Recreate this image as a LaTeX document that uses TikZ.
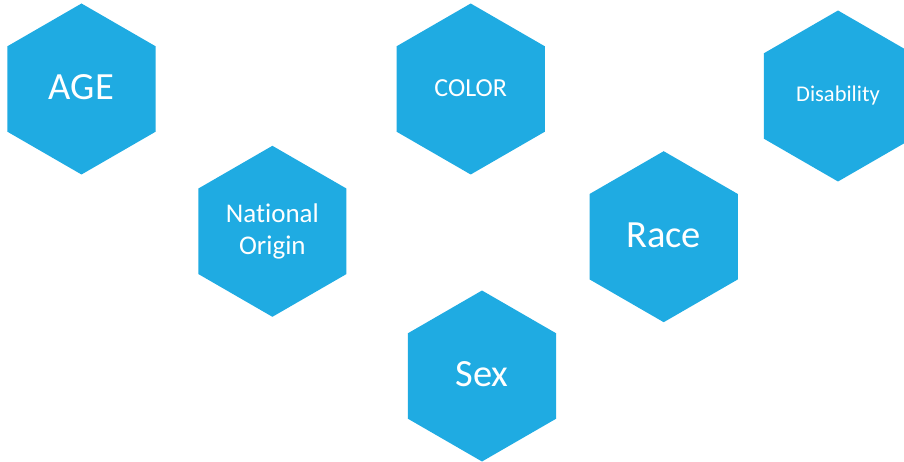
\documentclass[tikz,border=0pt]{standalone}
\usepackage{fontspec}
\setmainfont{Carlito}[Ligatures=NoCommon]
\usetikzlibrary{shapes.geometric,positioning}
\definecolor{hexblue}{HTML}{1FABE2}

\begin{document}
\begin{tikzpicture}[x=1pt,y=-1pt]
	\tikzstyle{hexagon} = [regular polygon, regular polygon sides=6, shape border rotate=30,
	minimum size=171pt, inner sep=0pt, outer sep=0pt, fill=hexblue, text=white,
	align=center]
	\tikzstyle{bigtext} = [font=\fontsize{38.5}{46}\selectfont, text height=25pt, text depth=4pt]
	\tikzstyle{midtext} = [font=\fontsize{26}{31.7}\selectfont, text height=16.8pt, text depth=2.6pt]
	\tikzstyle{smalltext} = [font=\fontsize{22.5}{27}\selectfont, text height=14.5pt, text depth=3.2pt]
	\useasboundingbox (0,0) rectangle (904,462);
	% top row
	\node (age) [hexagon, bigtext] at (81.5,89) {AGE};
	\node (color) [hexagon, midtext] at (470.7,89) {COLOR};
	\node (disability) [hexagon, smalltext] at (838,96) {Disability};
	% middle row
	\node (national) [hexagon, font=\fontsize{27}{31.7}\selectfont] at (272.4,231.3) {National\\Origin};
	\node (race) [hexagon, bigtext] at (663.7,236.7) {Race};
	% bottom
	\node (sex) [hexagon, bigtext] at (482,376) {Sex};
\end{tikzpicture}
\end{document}
